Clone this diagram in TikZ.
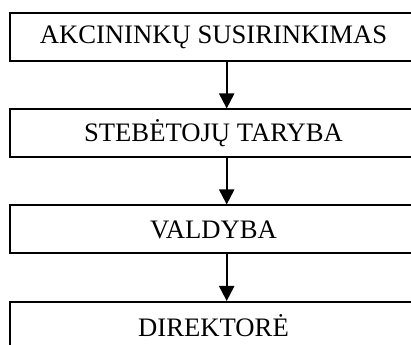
\documentclass[tikz,border=0pt]{standalone}
\usepackage{fontspec}
\setmainfont{Liberation Serif}
\usetikzlibrary{positioning,arrows.meta}

\tikzset{
  orgbox/.style={draw, line width=1.5pt, minimum width=305.25pt, minimum height=36pt,
    inner sep=0pt, font=\fontsize{20}{24}\selectfont},
  orgarrow/.style={line width=1.5pt, -{Triangle[width=11.25pt,length=11.25pt]}}
}

\begin{document}
\begin{tikzpicture}[x=0.75pt,y=0.75pt]
        \useasboundingbox (0,0) rectangle (411,345);
        \clip (0,0) rectangle (411,345);
        \node[orgbox] (susirinkimas) at (213.5,308)   {AKCININKŲ SUSIRINKIMAS};
        \node[orgbox] (taryba)       at (213.5,211.5) {STEBĖTOJŲ TARYBA};
        \node[orgbox] (valdyba)      at (213.5,115.5) {VALDYBA};
        \node[orgbox] (direktore)    at (213.5,19)    {DIREKTORĖ};
        \draw[orgarrow] ([xshift=9.9pt]susirinkimas.south) -- ([xshift=9.9pt]taryba.north);
        \draw[orgarrow] ([xshift=9.9pt]taryba.south) -- ([xshift=9.9pt]valdyba.north);
        \draw[orgarrow] ([xshift=9.9pt]valdyba.south) -- ([xshift=9.9pt]direktore.north);
      \end{tikzpicture}
\end{document}
